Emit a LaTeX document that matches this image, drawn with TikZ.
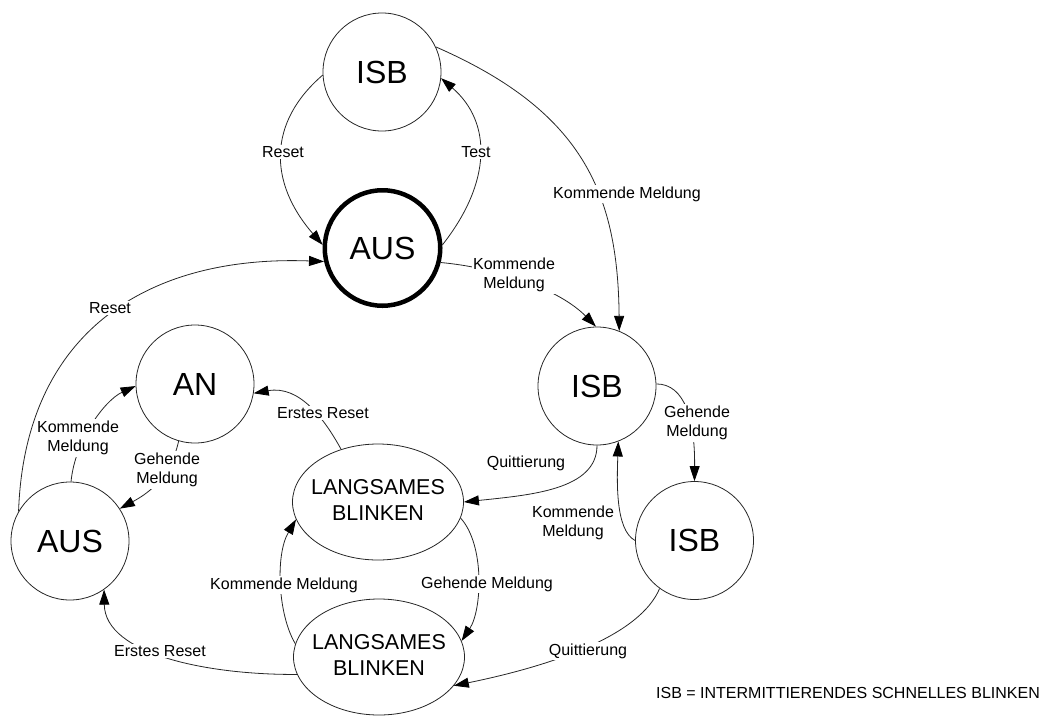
\documentclass[tikz,border=0pt]{standalone}
\usepackage{fontspec}
\setmainfont{Liberation Sans}
\usetikzlibrary{arrows.meta,shapes.geometric}
\begin{document}
\begin{tikzpicture}[x=1pt,y=-1pt,
  st/.style={circle,draw=black!85,line width=0.8pt,minimum size=118pt,inner sep=0pt,font=\fontsize{32}{36}\selectfont},
  stb/.style={st,draw=black,line width=4.5pt,minimum size=115.5pt},
  lb/.style={ellipse,draw=black!85,line width=0.8pt,minimum width=171pt,minimum height=116pt,inner sep=0pt,font=\fontsize{21.5}{26}\selectfont},
  lbl/.style={fill=white,inner sep=1.5pt,align=center,font=\fontsize{16}{19.5}\selectfont},
  tr/.style={draw=black!85,line width=0.8pt,-{Triangle[length=15pt,width=10pt,color=black]}}
]
\useasboundingbox (0,0) rectangle (1051,715);

% states
\node[st]  (isbT) at (382,72)    {ISB};
\node[stb] (ausB) at (382.5,248) {AUS};
\node[st]  (isbR) at (597,386)   {ISB};
\node[st]  (an)   at (195,384)   {AN};
\node[st]  (ausL) at (70,541)    {AUS};
\node[st]  (isbL) at (694.5,540.5) {ISB};
\node[lb]  (lbU)  at (378,502) {\makebox[0pt]{\begin{tabular}{@{}c@{}}LANGSAMES\\BLINKEN\end{tabular}}};
\node[lb]  (lbL)  at (379,657) {\makebox[0pt]{\begin{tabular}{@{}c@{}}LANGSAMES\\BLINKEN\end{tabular}}};

% transitions
\draw[tr] (isbT.183) .. controls (268,122) and (268,182) .. (ausB.177);
\draw[tr] (ausB.3) .. controls (492,182) and (492,122) .. (isbT.354);
\draw[tr] (isbT.25) .. controls (580,110) and (618,190) .. (isbR.68);
\draw[tr] (ausB.-14) .. controls (500,268) and (560,290) .. (isbR.91);
\draw[tr] (ausL.150) .. controls (25,330) and (150,255) .. (ausB.193);
\draw[tr] (ausL.89) .. controls (75,440) and (105,400) .. (an.182);
\draw[tr] (an.254) .. controls (170,480) and (145,495) .. (ausL.33);
\draw[tr] (lbU.125) .. controls (325,420) and (300,385) .. (an.351);
\draw[tr] (isbR.270) .. controls (597,490) and (530,495) .. (lbU.0);
\draw[tr] (isbR.2) .. controls (685,384) and (695,420) .. (isbL.90);
\draw[tr] (isbL.180) .. controls (615,530) and (617,480) .. (isbR.291);
\draw[tr] (isbL.234) .. controls (640,635) and (555,665) .. (lbL.339);
\draw[tr] (lbU.349) .. controls (485,545) and (482,610) .. (lbL.11);
\draw[tr] (lbL.171) .. controls (278,615) and (275,555) .. (lbU.192);
\draw[tr] (lbL.192) .. controls (210,675) and (105,655) .. (ausL.305);

% labels
\node[lbl] (l1)  at (283,152) {Reset};
\node[lbl] (l2)  at (476,152) {Test};
\node[lbl] (l3)  at (627,194) {Kommende Meldung};
\node[lbl] (l4)  at (514,275) {Kommende\\Meldung};
\node[lbl] (l5)  at (110,308) {Reset};
\node[lbl] (l6)  at (78,438)  {Kommende\\Meldung};
\node[lbl] (l7)  at (167,470) {Gehende\\Meldung};
\node[lbl] (l8)  at (323,413) {Erstes Reset};
\node[lbl] (l9)  at (526,463) {Quittierung};
\node[lbl] (l10) at (697,423) {Gehende\\Meldung};
\node[lbl] (l11) at (573,523) {Kommende\\Meldung};
\node[lbl] (l12) at (588,651) {Quittierung};
\node[lbl] (l13) at (487,584) {Gehende Meldung};
\node[lbl] (l14) at (284,585) {Kommende Meldung};
\node[lbl] (l15) at (160,651) {Erstes Reset};

\node[lbl] (note) at (848,693) {ISB = INTERMITTIERENDES SCHNELLES BLINKEN};
\end{tikzpicture}
\end{document}
